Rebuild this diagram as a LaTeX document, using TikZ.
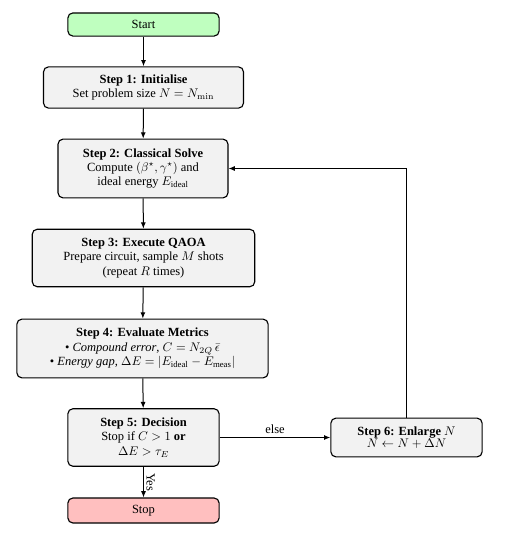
\documentclass[tikz,border=0pt]{standalone}
\usepackage[no-math]{fontspec}
\setmainfont{Liberation Serif}
\usepackage{amsmath}
\usetikzlibrary{arrows.meta}
\begin{document}
\begin{tikzpicture}[x=0.8pt,y=-0.8pt,
  box/.style={draw, line width=0.9pt, rounded corners=4pt, fill=gray!10, align=center, inner xsep=2pt, inner ysep=1pt},
  term/.style={box},
  arr/.style={draw, line width=0.8pt, -{Latex[length=5pt,width=4pt]}},
  font=\fontsize{10}{11.5}\selectfont]
\useasboundingbox (0,0) rectangle (507,536);
\node[term, fill=green!25, minimum width=121pt, minimum height=18.5pt] (start) at (143.5,24.5) {Start};
\node[box, minimum width=160pt, minimum height=33pt] (s1) at (143.5,87.5) {\textbf{Step 1: Initialise}\\Set problem size $N = N_{\min}$};
\node[box, minimum width=136pt, minimum height=47pt] (s2) at (143,168.5) {\textbf{Step 2: Classical Solve}\\Compute $(\beta^{\star},\gamma^{\star})$ and\\ideal energy $E_{\text{ideal}}$};
\node[box, minimum width=178pt, minimum height=46pt] (s3) at (143.5,258) {\textbf{Step 3: Execute QAOA}\\Prepare circuit, sample $M$ shots\\(repeat $R$ times)};
\node[box, minimum width=201pt, minimum height=47pt] (s4) at (142.5,348.5) {\textbf{Step 4: Evaluate Metrics}\\\textbullet\ \textit{Compound error}, $C = N_{2Q}\,\bar{\epsilon}$\\\textbullet\ \textit{Energy gap}, $\Delta E = \lvert E_{\text{ideal}} - E_{\text{meas}}\rvert$};
\node[box, minimum width=121pt, minimum height=46pt] (s5) at (143.5,437.5) {\textbf{Step 5: Decision}\\Stop if $C > 1$ \textbf{or}\\$\Delta E > \tau_E$};
\node[term, fill=red!25, minimum width=121pt, minimum height=20pt] (stop) at (143.5,510.5) {Stop};
\node[box, minimum width=121pt, minimum height=31pt] (s6) at (406.5,437.5) {\textbf{Step 6: Enlarge} $N$\\[-2pt]$N \leftarrow N + \Delta N$};
\draw[arr] (start) -- (s1);
\draw[arr] (s1) -- (s2);
\draw[arr] (s2) -- (s3);
\draw[arr] (s3) -- (s4);
\draw[arr] (s4) -- (s5);
\draw[arr] (s5) -- node[midway, rotate=-90, anchor=south, inner sep=2pt] (yes) {Yes} (stop);
\draw[arr] (s5) -- node[midway, above, inner sep=3pt] (else) {else} (s6);
\draw[arr] (s6.north) |- (s2.east);
\end{tikzpicture}
\end{document}
